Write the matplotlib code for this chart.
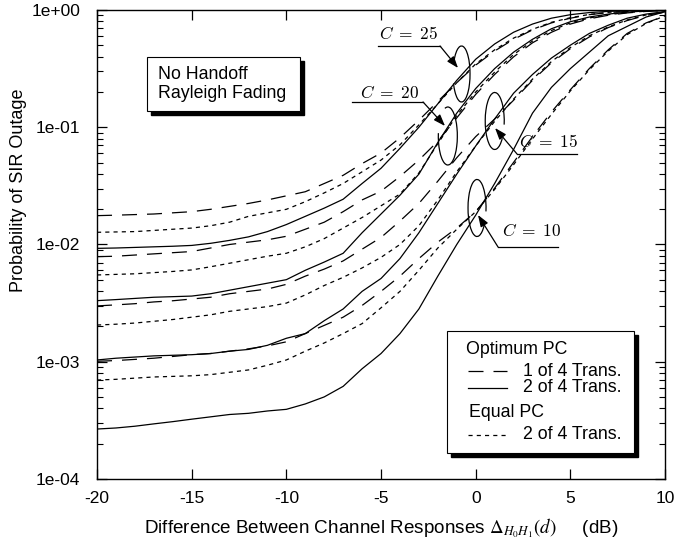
import matplotlib
matplotlib.use("Agg")
from matplotlib import pyplot as plt
from matplotlib import rcParams
from matplotlib.patches import Rectangle, Arc
from matplotlib.ticker import LogLocator, FuncFormatter, NullFormatter, FixedLocator

rcParams["font.family"] = ["Liberation Sans", "DejaVu Sans"]
rcParams["mathtext.fontset"] = "cm"
rcParams["axes.unicode_minus"] = False
rcParams["axes.linewidth"] = 1.0
rcParams["xtick.direction"] = "in"
rcParams["ytick.direction"] = "in"

# channel response difference (dB)
delta_db = [-20, -19, -18, -17, -16, -15, -14, -13, -12, -11, -10,
            -9, -8, -7, -6, -5, -4, -3, -2, -1, 0,
            1, 2, 3, 4, 5, 6, 7, 8, 9, 10]

# log10 of outage probability, optimum PC, 1 of 4 transmitters (dashed)
opt1_c25 = [-1.754, -1.75, -1.745, -1.74, -1.73, -1.72, -1.70, -1.675, -1.65, -1.62, -1.585,
            -1.55, -1.48, -1.41, -1.31, -1.22, -1.09, -0.94, -0.78, -0.62, -0.47,
            -0.35, -0.25, -0.17, -0.11, -0.07, -0.04, -0.022, -0.012, -0.005, -0.002]
opt1_c20 = [-2.104, -2.10, -2.09, -2.08, -2.07, -2.06, -2.03, -2.00, -1.98, -1.96, -1.93,
            -1.87, -1.81, -1.72, -1.62, -1.545, -1.42, -1.28, -1.12, -0.92, -0.72,
            -0.55, -0.40, -0.28, -0.19, -0.12, -0.075, -0.045, -0.025, -0.012, -0.005]
opt1_c15 = [-2.524, -2.515, -2.505, -2.49, -2.48, -2.465, -2.45, -2.42, -2.40, -2.38, -2.34,
            -2.27, -2.21, -2.14, -2.04, -1.94, -1.80, -1.65, -1.46, -1.26, -1.08,
            -0.93, -0.77, -0.60, -0.45, -0.33, -0.23, -0.15, -0.09, -0.045, -0.018]
opt1_c10 = [-2.996, -2.99, -2.98, -2.97, -2.955, -2.94, -2.93, -2.91, -2.89, -2.865, -2.83,
            -2.76, -2.69, -2.62, -2.52, -2.40, -2.27, -2.12, -1.98, -1.86, -1.72,
            -1.52, -1.30, -1.08, -0.87, -0.68, -0.50, -0.34, -0.20, -0.11, -0.05]

# optimum PC, 2 of 4 transmitters (solid)
opt2_c25 = [-2.033, -2.03, -2.025, -2.02, -2.015, -2.008, -1.99, -1.965, -1.935, -1.89, -1.83,
            -1.76, -1.69, -1.614, -1.48, -1.35, -1.18, -1.00, -0.80, -0.60, -0.42,
            -0.29, -0.19, -0.12, -0.07, -0.04, -0.022, -0.012, -0.006, -0.003, -0.001]
opt2_c20 = [-2.479, -2.47, -2.46, -2.45, -2.445, -2.44, -2.42, -2.39, -2.36, -2.33, -2.30,
            -2.22, -2.15, -2.075, -1.90, -1.74, -1.58, -1.40, -1.13, -0.88, -0.67,
            -0.50, -0.36, -0.25, -0.16, -0.10, -0.06, -0.035, -0.018, -0.008, -0.003]
opt2_c15 = [-2.985, -2.97, -2.96, -2.95, -2.945, -2.94, -2.93, -2.91, -2.895, -2.86, -2.80,
            -2.76, -2.65, -2.55, -2.40, -2.29, -2.12, -1.90, -1.65, -1.40, -1.16,
            -0.93, -0.71, -0.55, -0.41, -0.30, -0.20, -0.13, -0.07, -0.035, -0.013]
opt2_c10 = [-3.574, -3.565, -3.55, -3.53, -3.511, -3.49, -3.47, -3.45, -3.44, -3.42, -3.406,
            -3.36, -3.30, -3.21, -3.06, -2.93, -2.76, -2.55, -2.27, -2.00, -1.75,
            -1.48, -1.19, -0.88, -0.66, -0.50, -0.36, -0.22, -0.14, -0.06, -0.015]

# equal PC, 2 of 4 transmitters (dotted)
eq2_c25 = [-1.896, -1.893, -1.89, -1.88, -1.87, -1.86, -1.84, -1.81, -1.76, -1.73, -1.70,
           -1.635, -1.56, -1.48, -1.38, -1.28, -1.15, -0.98, -0.80, -0.62, -0.46,
           -0.34, -0.24, -0.165, -0.105, -0.066, -0.038, -0.02, -0.01, -0.005, -0.002]
eq2_c20 = [-2.26, -2.255, -2.25, -2.24, -2.23, -2.217, -2.19, -2.16, -2.13, -2.10, -2.075,
           -2.02, -1.95, -1.86, -1.77, -1.67, -1.57, -1.39, -1.14, -0.90, -0.70,
           -0.53, -0.38, -0.265, -0.175, -0.11, -0.068, -0.04, -0.022, -0.01, -0.004]
eq2_c15 = [-2.687, -2.68, -2.67, -2.655, -2.64, -2.62, -2.60, -2.57, -2.55, -2.53, -2.50,
           -2.43, -2.35, -2.28, -2.20, -2.11, -2.00, -1.84, -1.62, -1.38, -1.16,
           -0.95, -0.76, -0.59, -0.44, -0.32, -0.22, -0.145, -0.085, -0.042, -0.016]
eq2_c10 = [-3.156, -3.15, -3.14, -3.13, -3.125, -3.12, -3.11, -3.09, -3.07, -3.03, -2.985,
           -2.91, -2.84, -2.76, -2.675, -2.54, -2.40, -2.22, -2.03, -1.87, -1.72,
           -1.53, -1.32, -1.10, -0.89, -0.69, -0.51, -0.35, -0.21, -0.115, -0.05]

dashed = (0, (12, 8))
dotted = (0, (3.3, 3.3))
lw = 0.9

fig = plt.figure(figsize=(6.96, 5.43), dpi=100)
ax = fig.add_axes([0.1394, 0.1179, 0.8161, 0.8637])

for vals in (opt1_c25, opt1_c20, opt1_c15, opt1_c10):
    ax.plot(delta_db, [10 ** v for v in vals], color="black", lw=lw, linestyle=dashed)
for vals in (opt2_c25, opt2_c20, opt2_c15, opt2_c10):
    ax.plot(delta_db, [10 ** v for v in vals], color="black", lw=lw, linestyle="-")
for vals in (eq2_c25, eq2_c20, eq2_c15, eq2_c10):
    ax.plot(delta_db, [10 ** v for v in vals], color="black", lw=lw, linestyle=dotted)

ax.set_yscale("log")
ax.set_xlim(-20, 10)
ax.set_ylim(1e-4, 1)
ax.xaxis.set_major_locator(FixedLocator([-20, -15, -10, -5, 0, 5, 10]))
ax.yaxis.set_major_locator(LogLocator(base=10))
ax.yaxis.set_minor_locator(LogLocator(base=10, subs=range(2, 10)))
ax.yaxis.set_major_formatter(FuncFormatter(lambda v, pos: f"{v:.0e}"))
ax.yaxis.set_minor_formatter(NullFormatter())
ax.tick_params(which="both", top=True, right=True, labelsize=12.5)
ax.tick_params(which="major", length=7, width=0.9)
ax.tick_params(which="minor", length=4, width=0.8)
ax.tick_params(axis="x", pad=9)
ax.tick_params(axis="y", pad=12)

ax.set_ylabel("Probability of SIR Outage", fontsize=13)
ax.yaxis.set_label_coords(-0.124, 0.615)
ax.set_xlabel(r"Difference Between Channel Responses $\Delta_{H_0 H_1}(d)$     (dB)",
              fontsize=13.6, labelpad=7, math_fontfamily="stix")


def shadow_box(x0, y0, w, h):
    ax.add_patch(Rectangle((x0 + 0.007, y0 - 0.009), w, h, transform=ax.transAxes,
                           facecolor="black", edgecolor="black", zorder=5))
    ax.add_patch(Rectangle((x0, y0), w, h, transform=ax.transAxes,
                           facecolor="white", edgecolor="black", lw=0.8, zorder=6))


box_font = 12.8

# scenario box
shadow_box(0.0886, 0.7853, 0.2681, 0.1151)
ax.text(0.108, 0.8614, "No Handoff", transform=ax.transAxes, fontsize=box_font,
        va="center", zorder=7)
ax.text(0.108, 0.8223, "Rayleigh Fading", transform=ax.transAxes, fontsize=box_font,
        va="center", zorder=7)

# line style key
shadow_box(0.616, 0.056, 0.329, 0.2596)
ax.text(0.649, 0.277, "Optimum PC", transform=ax.transAxes, fontsize=box_font,
        va="center", zorder=7)
ax.plot([0.653, 0.722], [0.230, 0.230], transform=ax.transAxes, color="black",
        lw=lw, linestyle=dashed, zorder=7)
ax.text(0.7495, 0.230, "1 of 4 Trans.", transform=ax.transAxes, fontsize=box_font,
        va="center", zorder=7)
ax.plot([0.653, 0.722], [0.195, 0.195], transform=ax.transAxes, color="black",
        lw=lw, zorder=7)
ax.text(0.7495, 0.195, "2 of 4 Trans.", transform=ax.transAxes, fontsize=box_font,
        va="center", zorder=7)
ax.text(0.655, 0.141, "Equal PC", transform=ax.transAxes, fontsize=box_font,
        va="center", zorder=7)
ax.plot([0.653, 0.722], [0.094, 0.094], transform=ax.transAxes, color="black",
        lw=lw, linestyle=dotted, zorder=7)
ax.text(0.7495, 0.094, "2 of 4 Trans.", transform=ax.transAxes, fontsize=box_font,
        va="center", zorder=7)


def px(x, y):
    # pixel position inside the plot frame -> axes fraction
    return ((x - 97) / 568, (479 - y) / 469)


def group_label(text, text_xy, rule, tip, loop, gap):
    ax.text(*px(*text_xy), text, transform=ax.transAxes, fontsize=12.5,
            ha="center", va="center")
    (x0, x1, y) = rule
    ax.plot([px(x0, y)[0], px(x1, y)[0]], [px(x0, y)[1]] * 2, transform=ax.transAxes,
            color="black", lw=0.9)
    start = x1 if tip[0] > x1 else x0
    ax.annotate("", xy=px(*tip), xycoords="axes fraction",
                xytext=px(start, y), textcoords="axes fraction",
                arrowprops=dict(arrowstyle="-|>,head_length=0.5,head_width=0.18",
                                color="black", lw=0.9,
                                mutation_scale=14, shrinkA=0, shrinkB=0))
    cx, cy, w, h = loop
    ax.add_patch(Arc(px(cx, cy), w / 568, h / 469, theta1=gap[1], theta2=gap[0] + 360,
                     transform=ax.transAxes, color="black", lw=0.9))


group_label(r"$C\;=\;25$", (408, 34), (378, 440, 46), (458, 68), (461.5, 74, 17, 56), (125, 235))
group_label(r"$C\;=\;20$", (389, 93), (352, 423, 102), (445, 126), (447.8, 136, 19, 58), (95, 160))
group_label(r"$C\;=\;15$", (548, 142), (517, 577, 154), (495, 128), (494.7, 121, 19, 57), (290, 335))
group_label(r"$C\;=\;10$", (531, 231), (498, 558, 247), (478, 215), (477, 208, 18, 57), (290, 335))

fig.savefig("out.png", dpi=100)
